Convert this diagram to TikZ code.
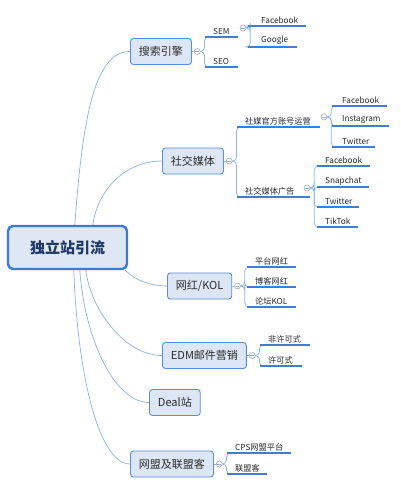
\documentclass[tikz,border=0pt]{standalone}
\usepackage{fontspec}
\setmainfont{Noto Sans CJK SC}
\definecolor{boxfill}{HTML}{DCE6F4}
\definecolor{boxdraw}{HTML}{5B8ED6}
\definecolor{mainfill}{HTML}{DFE7F5}
\definecolor{maindraw}{HTML}{3B7BD4}
\definecolor{linkc}{HTML}{8CB3E8}
\definecolor{ulc}{HTML}{3F7FD0}
\definecolor{txt}{HTML}{2B2B2B}
\definecolor{maintxt}{HTML}{1E3765}
\definecolor{togc}{HTML}{9AA9C0}
\newcommand\lblpad{8pt}
\begin{document}
\begin{tikzpicture}[x=1pt,y=-1pt,
  mainbox/.style={draw=maindraw, fill=mainfill, line width=2.4pt, rounded corners=5pt,
    minimum width=119pt, minimum height=43pt, font=\fontsize{15}{18}\selectfont\bfseries, text=maintxt},
  topic/.style={draw=boxdraw, fill=boxfill, line width=0.9pt, rounded corners=3pt, inner xsep=8.5pt,
    minimum height=26pt, font=\fontsize{11}{13}\selectfont, text=txt, anchor=west},
  tog/.style={circle, draw=togc, fill=white, line width=0.6pt, minimum size=6pt, inner sep=0pt,
    path picture={\draw[togc, line width=0.6pt] ([xshift=-1.8pt]path picture bounding box.center) -- ([xshift=1.8pt]path picture bounding box.center);}},
  lbl/.style={anchor=south west, inner xsep=0pt, inner ysep=1.8pt, text width=#1, align=left,
    font=\fontsize{8.2}{9.8}\selectfont, text=txt, execute at begin node={\hspace*{\lblpad}}},
  link/.style={draw=linkc, line width=0.7pt},
  br/.style={rounded corners=4pt, to path={-- ++(4,0) |- (\tikztotarget)}},
  ul/.style={draw=ulc, line width=1.5pt}]
\useasboundingbox (0,0) rectangle (400,489);
\fill[white] (0,0) rectangle (400,489);

% main node
\node[mainbox] (main) at (67.5,247.5) {独立站引流};

% level 1 topics
\node[topic] (se)   at (130,51.5)  {搜索引擎};
\node[topic] (sm)   at (162,161)   {社交媒体};
\node[topic] (kol)  at (167,286)   {网红/KOL};
\node[topic] (edm)  at (162,355.5) {EDM邮件营销};
\node[topic] (deal) at (149,402.5) {Deal站};
\node[topic] (wm)   at (130,464)   {网盟及联盟客};

% main connectors
\draw[link] ([xshift=68pt]main.north west) .. controls +(8,-110) and +(-35,0) .. (se.west);
\draw[link] ([xshift=86pt]main.north west) .. controls +(5,-35) and +(-37,0) .. (sm.west);
\draw[link] ([xshift=-3pt]main.south east) .. controls +(10,10) and +(-17,0) .. (kol.west);
\draw[link] ([xshift=79pt]main.south west) .. controls +(5,40) and +(-37,0) .. (edm.west);
\draw[link] ([xshift=73pt]main.south west) .. controls +(5,70) and +(-34,0) .. (deal.west);
\draw[link] ([xshift=67pt]main.south west) .. controls +(4,110) and +(-30,0) .. (wm.west);

% toggles on topics
\foreach \b in {se,sm,kol,edm,wm}{
  \node[tog, anchor=west] (t\b) at ([xshift=2pt]\b.east) {};
  \draw[link] (\b.east) -- (t\b.west);
}

% level 2 labels
\node[lbl=33] (sem) at (205,37) {SEM};
\node[lbl=33] (seo) at (205,67) {SEO};
\node[lbl=83] (gf)  at (237,127) {社媒官方账号运营};
\node[lbl=73] (gg)  at (237,197) {社交媒体广告};
\node[lbl=49] (k1)  at (247,267) {平台网红};
\node[lbl=49] (k2)  at (247,287) {博客网红};
\node[lbl=49] (k3)  at (247,307) {论坛KOL};
\node[lbl=50] (e1)  at (260,345) {非许可式};
\node[lbl=42] (e2)  at (260,366) {许可式};
\node[lbl=64] (w1)  at (227,453) {CPS网盟平台};
\node[lbl=40] (w2)  at (227,474) {联盟客};

% level 3 labels
\begin{scope}
\def\lblpad{13pt}
\node[lbl=58] (fb1) at (248,26) {Facebook};
\node[lbl=49] (go)  at (248,47) {Google};
\end{scope}
\begin{scope}
\def\lblpad{10pt}
\node[lbl=55] (fb2) at (332,106) {Facebook};
\node[lbl=57] (ins) at (332,126) {Instagram};
\node[lbl=43] (tw1) at (332,147) {Twitter};
\end{scope}
\node[lbl=53] (fb3) at (317,166) {Facebook};
\node[lbl=52] (sc)  at (317,187) {Snapchat};
\node[lbl=42] (tw2) at (317,207) {Twitter};
\node[lbl=41] (tt)  at (317,227) {TikTok};

% toggles on labels
\node[tog] (tsem) at (243,28)  {};
\node[tog] (tgf)  at (324,117) {};
\node[tog] (tgg)  at (307,188) {};

% branch connectors
\foreach \f/\t in {tse/sem, tse/seo, tsm/gf, tsm/gg, tkol/k1, tkol/k2, tkol/k3,
  tedm/e1, tedm/e2, twm/w1, twm/w2, tsem/fb1, tsem/go, tgf/fb2, tgf/ins, tgf/tw1,
  tgg/fb3, tgg/sc, tgg/tw2, tgg/tt}{
  \draw[link] (\f.east) to[br] (\t.south west);
}

% underlines
\foreach \n in {sem,seo,gf,gg,k1,k2,k3,e1,e2,w1,w2,fb1,go,fb2,ins,tw1,fb3,sc,tw2,tt}{
  \draw[ul] (\n.south west) -- (\n.south east);
}
\end{tikzpicture}
\end{document}
